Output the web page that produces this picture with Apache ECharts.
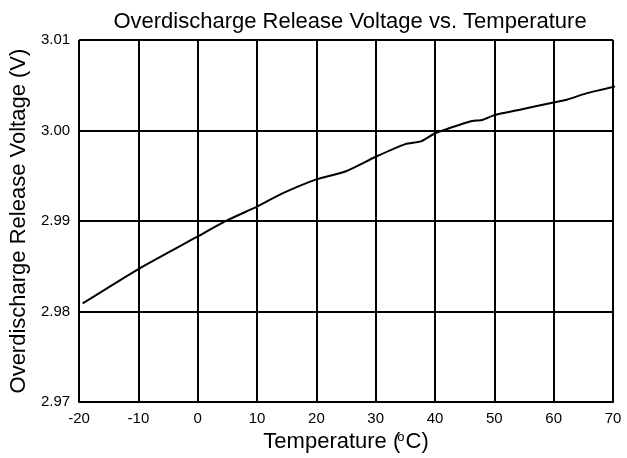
<!DOCTYPE html>
<html><head><meta charset="utf-8">
<script src="https://cdn.jsdelivr.net/npm/echarts@6/dist/echarts.min.js"></script>
<style>html,body{margin:0;padding:0;background:#fff}#c{width:627px;height:458px}</style>
</head><body><div id="c"></div>
<script>
const temps = [-19.4, -10, 0, 4.7, 10, 14.1, 20, 25, 30, 35, 37.6, 40, 42.6, 45.9, 48.1, 50, 54.3, 60, 62.2, 65.5, 70.6];
const volts = [2.9809, 2.9847, 2.9883, 2.9900, 2.9916, 2.9930, 2.9946, 2.9955, 2.9971, 2.9985, 2.9988, 2.9997, 3.0003, 3.0010, 3.0012, 3.0017, 3.0023, 3.0031, 3.0034, 3.0041, 3.0049];
const xTicks = [-20, 70, 10];
const yTicks = [2.97, 3.01, 0.01];
const font = 'Liberation Sans, Arial, sans-serif';
const chart = echarts.init(document.getElementById('c'));
chart.setOption({
  animation: false,
  title: { text: 'Overdischarge Release Voltage vs. Temperature', left: 345, textAlign: 'center', top: 6,
    textStyle: { fontFamily: font, fontSize: 22, fontWeight: 'normal', color: '#000' } },
  grid: { left: 77, right: 14, top: 40, bottom: 54 },
  xAxis: { type: 'value', min: xTicks[0], max: xTicks[1], interval: xTicks[2],
    name: '{a|Temperature (}{s|o}{a|C)}', nameLocation: 'middle', nameGap: 26,
    nameTextStyle: { rich: { a: { fontFamily: font, fontSize: 22, color: '#000' }, s: { fontFamily: font, fontSize: 13, color: '#000', verticalAlign: 'top', padding: [0, 1, 8, -3] } } },
    axisLine: { show: true, lineStyle: { color: '#000', width: 2 } }, axisTick: { show: false },
    axisLabel: { fontFamily: font, fontSize: 15, color: '#000', margin: 9 },
    splitLine: { show: true, lineStyle: { color: '#000', width: 2 } } },
  yAxis: { type: 'value', min: yTicks[0], max: yTicks[1], interval: yTicks[2],
    name: 'Overdischarge Release Voltage (V)', nameLocation: 'middle', nameGap: 46,
    nameTextStyle: { fontFamily: font, fontSize: 22, color: '#000' },
    axisLine: { show: true, lineStyle: { color: '#000', width: 2 } }, axisTick: { show: false },
    axisLabel: { fontFamily: font, fontSize: 15, color: '#000', margin: 9, padding: [8, 0, 0, 0], formatter: v => v.toFixed(2) },
    splitLine: { show: true, lineStyle: { color: '#000', width: 2 } } },
  series: [{ type: 'line', data: temps.map((t, i) => [t, volts[i]]), showSymbol: false, smooth: 0.2, clip: false,
    lineStyle: { color: '#000', width: 2 } }]
});
</script></body></html>
